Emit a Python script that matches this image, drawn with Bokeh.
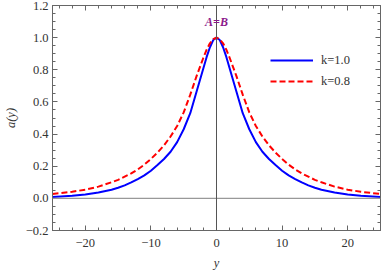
from bokeh.plotting import figure
from bokeh.models import (Span, Label, Legend, LegendItem, LinearAxis, FixedTicker,
                          CustomJSTickFormatter, Range1d)
from bokeh.embed import file_html
from bokeh.resources import INLINE

# ---- data ----
y_vals = [-25, -22, -20, -18, -16, -15, -14, -13, -12, -11, -10, -9, -8, -7, -6, -5, -4, -3, -2, -1.5, -1, -0.5,
          0, 0.5, 1, 1.5, 2, 3, 4, 5, 6, 7, 8, 9, 10, 11, 12, 13, 14, 15, 16, 18, 20, 22, 25]
a_k10 = [0.009, 0.016, 0.024, 0.036, 0.054, 0.066, 0.081, 0.099, 0.12, 0.143, 0.172, 0.207, 0.245, 0.29, 0.35,
         0.43, 0.53, 0.67, 0.81, 0.88, 0.94, 0.985,
         1.0, 0.985, 0.94, 0.88, 0.81, 0.67, 0.53, 0.43, 0.35, 0.29, 0.245, 0.207, 0.172, 0.143, 0.12, 0.099,
         0.081, 0.066, 0.054, 0.036, 0.024, 0.016, 0.009]
a_k08 = [0.027, 0.041, 0.054, 0.073, 0.1, 0.115, 0.135, 0.155, 0.18, 0.21, 0.245, 0.285, 0.33, 0.385, 0.45,
         0.535, 0.645, 0.765, 0.875, 0.925, 0.965, 0.99,
         1.0, 0.99, 0.965, 0.925, 0.875, 0.765, 0.645, 0.535, 0.45, 0.385, 0.33, 0.285, 0.245, 0.21, 0.18, 0.155,
         0.135, 0.115, 0.1, 0.073, 0.054, 0.041, 0.027]
series_labels = ["k=1.0", "k=0.8"]
x_ticks = [-20, -10, 0, 10, 20]
x_minor = [v for v in range(-24, 25, 2)]
y_ticks = [-0.2, 0.0, 0.2, 0.4, 0.6, 0.8, 1.0, 1.2]
y_minor = [round(-0.2 + 0.05 * i, 2) for i in range(29)]
annot_text = "A=B"

FONT = "Liberation Serif"
AX = "#666666"

p = figure(width=381, height=272, output_backend="svg", toolbar_location=None,
           x_range=Range1d(-25, 25), y_range=Range1d(-0.2, 1.2),
           min_border_left=51, min_border_right=1, min_border_top=5, min_border_bottom=38)
p.xgrid.visible = False
p.ygrid.visible = False
p.outline_line_color = AX
p.outline_line_width = 1
p.background_fill_color = "white"
p.border_fill_color = "white"

p.add_layout(Span(location=0, dimension="width", line_color="#999999", line_width=1.3))
p.add_layout(Span(location=0, dimension="height", line_color="#555555", line_width=1))

r1 = p.line(y_vals, a_k10, line_color="#0000ff", line_width=2)
r2 = p.line(y_vals, a_k08, line_color="#ff0000", line_width=2, line_dash="6 3")

xfmt = CustomJSTickFormatter(code="return (tick < 0 ? '\u2212' : '') + Math.abs(tick).toFixed(0);")
yfmt = CustomJSTickFormatter(code="return (tick < -1e-9 ? '\u2212' : '') + Math.abs(tick).toFixed(1);")
blank = CustomJSTickFormatter(code="return '';")

def style_axis(ax, ticks, minor, fmt, font):
    ax.ticker = FixedTicker(ticks=ticks, minor_ticks=minor)
    ax.formatter = fmt
    ax.major_tick_in = 5
    ax.major_tick_out = 0
    ax.minor_tick_in = 3
    ax.minor_tick_out = 0
    ax.major_tick_line_color = AX
    ax.minor_tick_line_color = AX
    ax.axis_line_color = AX
    ax.major_label_text_font = font
    ax.major_label_text_color = "#333333"
    ax.major_label_text_font_size = "12.5px"

style_axis(p.xaxis[0], x_ticks, x_minor, xfmt, FONT)
style_axis(p.yaxis[0], y_ticks, y_minor, yfmt, FONT)
p.xaxis[0].major_label_standoff = 8
p.yaxis[0].major_label_standoff = 4
p.xaxis[0].axis_label = "y"
p.yaxis[0].axis_label = "a(y)"
for ax in (p.xaxis[0], p.yaxis[0]):
    ax.axis_label_text_font = FONT
    ax.axis_label_text_font_style = "italic"
    ax.axis_label_text_font_size = "12.5px"
    ax.axis_label_text_color = "#333333"
p.xaxis[0].axis_label_standoff = 6
p.yaxis[0].axis_label_standoff = 5

top = LinearAxis()
right = LinearAxis()
style_axis(top, x_ticks, x_minor, blank, FONT)
style_axis(right, y_ticks, y_minor, blank, FONT)
top.major_label_standoff = 0
right.major_label_standoff = 0
p.add_layout(top, "above")
p.add_layout(right, "right")

p.add_layout(Label(x=0, y=1.1, text=annot_text, text_align="center", text_baseline="middle",
                   text_font=FONT, text_font_style="bold italic", text_font_size="12px",
                   text_color="#8b1a8b"))

legend = Legend(items=[LegendItem(label=series_labels[0], renderers=[r1]),
                       LegendItem(label=series_labels[1], renderers=[r2])],
                location=(218, 139), orientation="vertical",
                glyph_width=43, glyph_height=20, label_height=20, label_standoff=8,
                spacing=1, padding=0, margin=0,
                border_line_color=None, background_fill_alpha=0,
                label_text_font=FONT, label_text_font_size="12.5px", label_text_color="#333333")
p.add_layout(legend)

open("out.html", "w").write(file_html(p, INLINE))
